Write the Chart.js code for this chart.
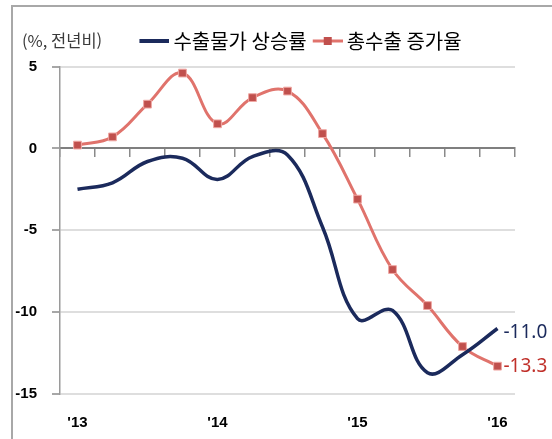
<!DOCTYPE html>
<html lang="ko">
<head>
<meta charset="utf-8">
<title>수출물가 상승률과 총수출 증가율</title>
<script src="https://cdn.jsdelivr.net/npm/chart.js@4.4.1/dist/chart.umd.min.js"></script>
<style>
  html, body { margin: 0; padding: 0; background: #fff; overflow: hidden; }
  body { width: 552px; height: 439px; position: relative; }
  #frame {
    position: absolute; left: 11px; top: 5px; width: 600px; height: 500px;
    border-top: 2px solid #a8a8a8; border-left: 2px solid #a8a8a8;
  }
  #wrap { position: absolute; left: 0; top: 0; width: 601px; height: 439px; }
</style>
</head>
<body>
<div id="frame"></div>
<div id="wrap"><canvas id="exportChart"></canvas></div>
<script>
// quarterly, 2013 Q1 .. 2016 Q1
const quarters = [
  '2013.1Q', '2013.2Q', '2013.3Q', '2013.4Q',
  '2014.1Q', '2014.2Q', '2014.3Q', '2014.4Q',
  '2015.1Q', '2015.2Q', '2015.3Q', '2015.4Q',
  '2016.1Q'
];
const yearLabels = ["'13", "'14", "'15", "'16"];
const yTicks = [5, 0, -5, -10, -15];

// % y/y
const exportPrice  = [-2.5, -2.1, -0.8, -0.6, -1.9, -0.5, -0.4, -4.8, -10.4, -9.9, -13.7, -12.6, -11.0];
const exportGrowth = [0.2, 0.7, 2.7, 4.6, 1.5, 3.1, 3.5, 0.9, -3.1, -7.4, -9.6, -12.1, -13.3];

const NAVY = '#1b2a5c';
const RED_LINE = '#e0736c';
const RED_MARK = '#c0504d';

// legend swatches: plain line / line with square marker
function makeSwatch(color, width, marker) {
  const c = document.createElement('canvas');
  c.width = 36; c.height = 12;
  const g = c.getContext('2d');
  g.strokeStyle = color;
  g.lineWidth = width;
  g.beginPath();
  g.moveTo(6, 6);
  g.lineTo(36, 6);
  g.stroke();
  if (marker) {
    g.fillStyle = RED_MARK;
    g.fillRect(17, 2, 8, 8);
  }
  return c;
}
const swatches = [makeSwatch(NAVY, 4, false), makeSwatch(RED_LINE, 3, true)];

const tickFont = { family: '"Liberation Sans", Arial, sans-serif', size: 15, weight: 'bold' };

// "(%, 전년비)" unit note, plus the year marks under the plot (one every 4 quarters)
const axisText = {
  id: 'axisText',
  afterDraw(chart) {
    const ctx = chart.ctx;
    const xs = chart.scales.x;
    ctx.save();
    ctx.font = '16.5px "Noto Sans CJK KR", sans-serif';
    ctx.fillStyle = '#3a3a3a';
    ctx.textBaseline = 'middle';
    ctx.fillText('(%, 전년비)', 22, 41);

    ctx.font = 'bold 15px "Liberation Sans", Arial, sans-serif';
    ctx.fillStyle = '#000';
    ctx.textAlign = 'center';
    yearLabels.forEach((lbl, i) => {
      ctx.fillText(lbl, xs.getPixelForValue(i * 4), chart.chartArea.bottom + 29);
    });
    ctx.restore();
  }
};

// value of the last point, written right of the line end
const endLabels = {
  id: 'endLabels',
  afterDatasetsDraw(chart) {
    const ctx = chart.ctx;
    chart.data.datasets.forEach((ds, i) => {
      const meta = chart.getDatasetMeta(i);
      const pt = meta.data[meta.data.length - 1];
      const v = ds.data[ds.data.length - 1];
      ctx.save();
      ctx.font = '19px "Noto Sans", sans-serif';
      ctx.fillStyle = ds.endLabelColor;
      ctx.textBaseline = 'middle';
      ctx.fillText(v.toFixed(1), pt.x + 6, pt.y + ds.endLabelShift);
      ctx.restore();
    });
  }
};

const ctxExport = document.getElementById('exportChart').getContext('2d');
const exportChart = new Chart(ctxExport, {
  type: 'line',
  data: {
    labels: quarters,
    datasets: [{
      label: '수출물가 상승률',
      data: exportPrice,
      borderColor: NAVY,
      borderWidth: 3.5,
      pointRadius: 0,
      tension: 0.4,
      endLabelColor: NAVY,
      endLabelShift: 4
    }, {
      label: '총수출 증가율',
      data: exportGrowth,
      borderColor: RED_LINE,
      borderWidth: 3,
      pointStyle: 'rect',
      pointRadius: 5.5,
      pointBackgroundColor: RED_MARK,
      pointBorderColor: '#f0a8a4',
      pointBorderWidth: 1,
      tension: 0.4,
      endLabelColor: '#c0302a',
      endLabelShift: 0
    }]
  },
  options: {
    responsive: true,
    maintainAspectRatio: false,
    animation: false,
    layout: { padding: { top: 25, right: 0, bottom: 0, left: 0 } },
    scales: {
      x: {
        type: 'category',
        offset: true,
        grid: { display: false, drawTicks: false },
        border: { display: false },
        ticks: { display: false },
        afterFit: s => { s.height = 45; }
      },
      zeroAxis: {
        type: 'category',
        axis: 'x',
        position: { y: 0 },
        offset: true,
        grid: { offset: true, drawOnChartArea: false, tickLength: 8, color: '#8a8a8a', lineWidth: 1.5 },
        border: { display: true, color: '#7f7f7f', width: 2 },
        ticks: { display: false }
      },
      gap: {
        type: 'category',
        axis: 'x',
        position: 'top',
        grid: { display: false },
        border: { display: false },
        ticks: { display: false },
        afterFit: s => { s.height = 5.5; }
      },
      y: {
        min: -15,
        max: 5,
        afterBuildTicks: s => { s.ticks = yTicks.map(v => ({ value: v })); },
        grid: {
          color: c => (c.tick && c.tick.value === 0) ? 'rgba(0,0,0,0)' : '#dedede',
          lineWidth: 2,
          tickLength: 8,
          tickColor: '#8a8a8a',
          tickWidth: 1.5
        },
        border: { color: '#9a9a9a', width: 1.5 },
        ticks: { padding: 15, color: '#000', font: tickFont },
        afterFit: s => { s.width = 60; }
      },
      // empty strip on the right, room for the end values
      margin: {
        type: 'linear',
        axis: 'y',
        position: 'right',
        grid: { display: false },
        border: { display: false },
        ticks: { display: false },
        afterFit: s => { s.width = 86; }
      }
    },
    plugins: {
      legend: {
        position: 'top',
        align: 'center',
        labels: {
          usePointStyle: true,
          pointStyleWidth: 24,
          padding: 6,
          color: '#000',
          font: { family: '"Noto Sans CJK KR", sans-serif', size: 20 },
          generateLabels: chart => chart.data.datasets.map((ds, i) => ({
            text: ds.label,
            pointStyle: swatches[i],
            fillStyle: ds.borderColor,
            strokeStyle: ds.borderColor,
            lineWidth: 0,
            hidden: false,
            datasetIndex: i
          }))
        }
      },
      tooltip: { enabled: false }
    }
  },
  plugins: [axisText, endLabels]
});
</script>
</body>
</html>
